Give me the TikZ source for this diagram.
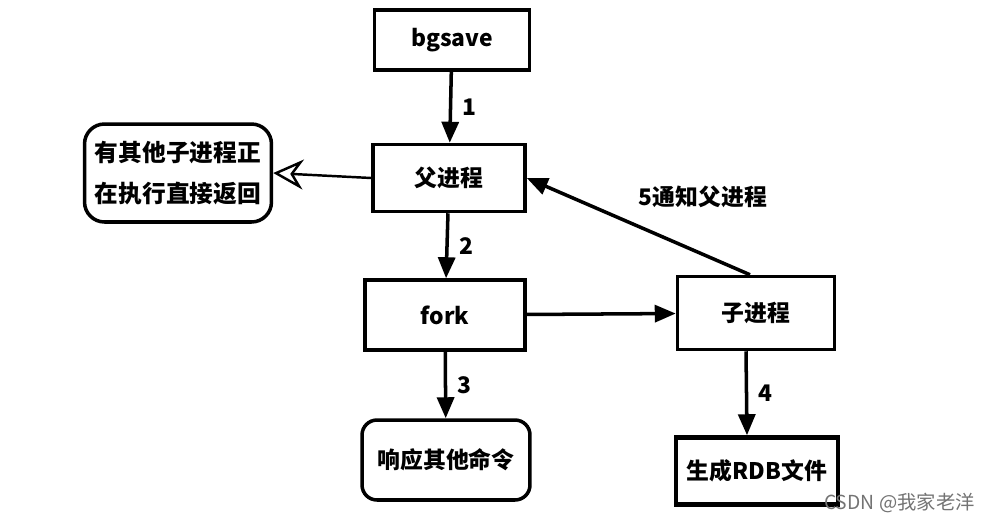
\documentclass[tikz,border=0pt]{standalone}
\usepackage{fontspec}
\setmainfont{Noto Sans CJK SC}
\usetikzlibrary{arrows.meta,calc}
\begin{document}
\begin{tikzpicture}[x=0.02cm,y=-0.02cm,
  box/.style={draw, line width=2pt, align=center, font=\fontsize{13}{20}\selectfont\bfseries, inner sep=0pt},
  flow/.style={line width=2pt, -{Triangle[length=0.42cm,width=0.34cm]}},
  lbl/.style={font=\fontsize{13}{16}\selectfont\bfseries, inner sep=1pt}]
\useasboundingbox (0,0) rectangle (987,522);
\node[box, minimum width=3.1cm, minimum height=1.2cm] (bg) at (452,40) {bgsave};
\node[box, minimum width=3.04cm, minimum height=1.34cm] (par) at (449,178) {父进程};
\node[box, rounded corners=0.4cm, minimum width=3.74cm, minimum height=1.96cm, font=\fontsize{13.5}{23}\selectfont\bfseries] (ret) at (178,173) {有其他子进程正\\在执行直接返回};
\node[box, minimum width=3.2cm, minimum height=1.4cm] (fork) at (445,315) {fork};
\node[box, minimum width=3.14cm, minimum height=1.46cm] (child) at (756,313) {子进程};
\node[box, rounded corners=0.3cm, minimum width=3.36cm, minimum height=1.6cm] (resp) at (446,460) {响应其他命令};
\node[box, line width=2.6pt, minimum width=3.24cm, minimum height=1.34cm] (rdb) at (757,471) {生成RDB文件};

\draw[flow] (bg) -- node[lbl, right=5pt] {1} (par);
\draw[flow] (par) -- node[lbl, right=5pt] {2} (fork);
\draw[flow] (fork) -- node[lbl, right=5pt] {3} (resp);
\draw[flow] (fork) -- (child);
\draw[flow] ($(child.south)+(-10,0)$) -- node[lbl, right=5pt] {4} ($(rdb.north)+(-10,0)$);
\draw[flow] ($(child.north)+(-6,0)$) -- (par.east);
\node[lbl] (l5) at (703,197) {5通知父进程};
\draw[line width=1.4pt, -{Stealth[open, length=0.6cm, width=0.6cm, inset=0.2cm]}] (par.west) -- (ret.east);
\node[font=\fontsize{11}{13}\selectfont, text=black!55, anchor=east, inner sep=0pt] (wm) at (975,503) {CSDN @我家老洋};
\end{tikzpicture}
\end{document}
